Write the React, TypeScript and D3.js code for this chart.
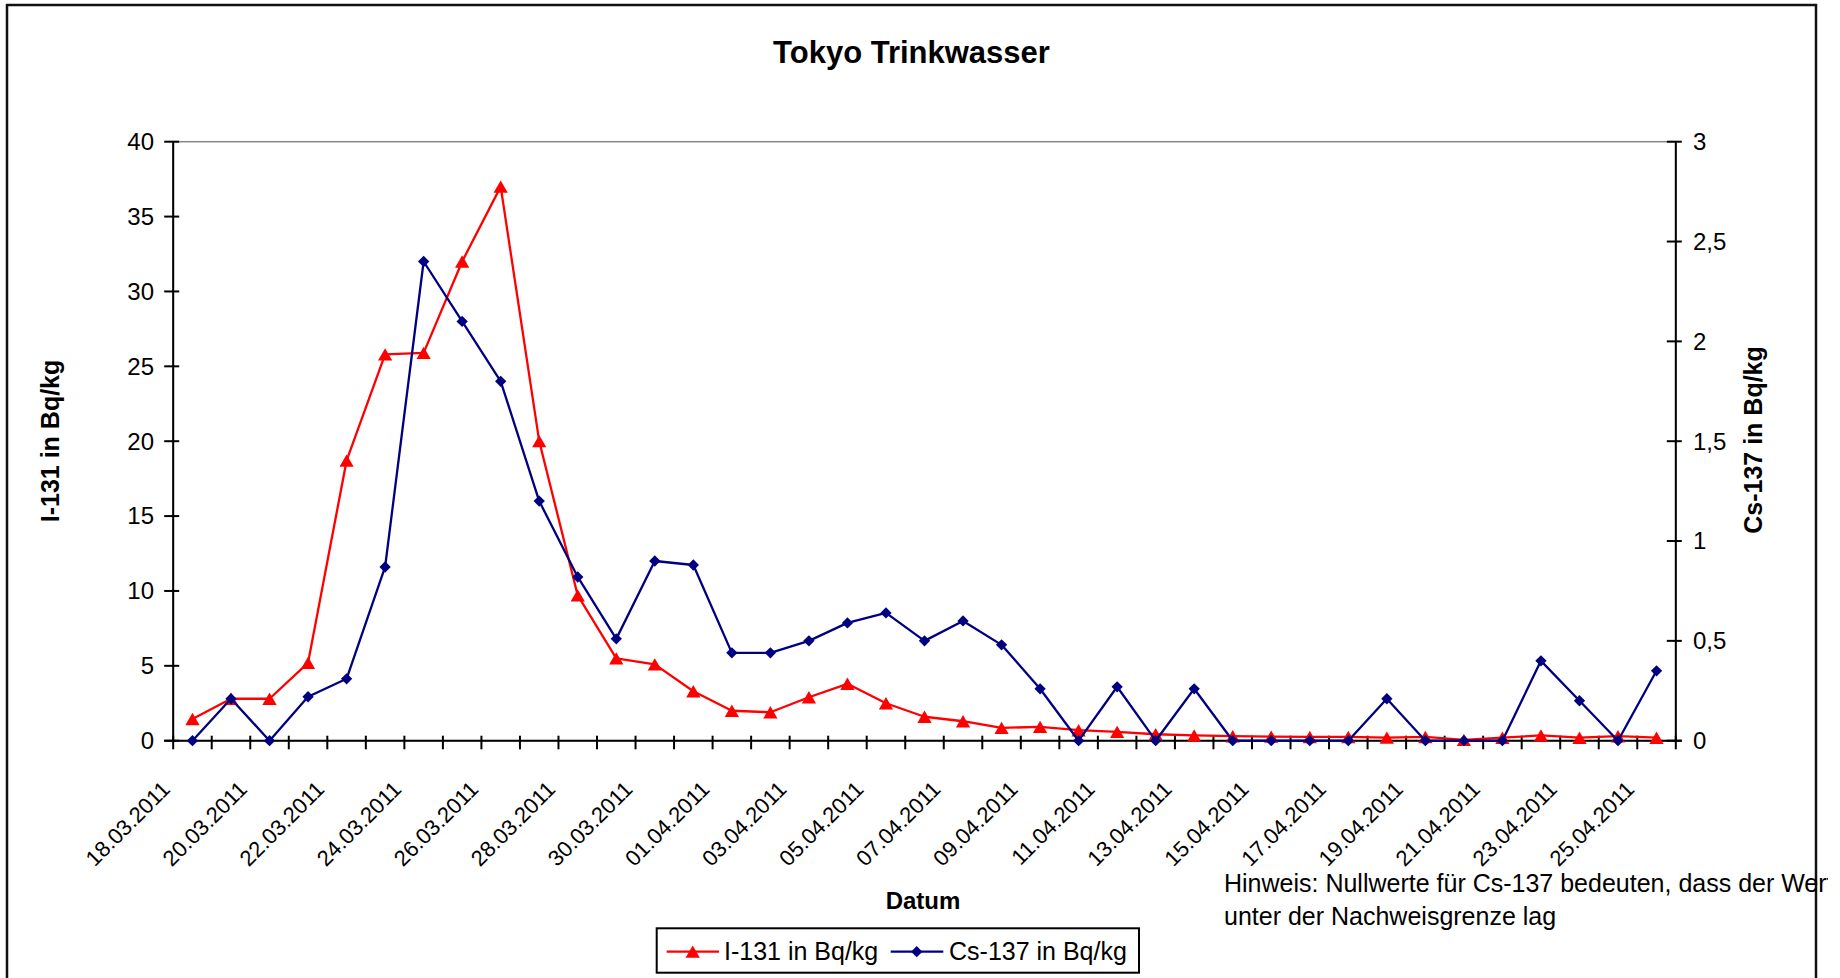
import React from "react";
import * as d3 from "d3";

// Messwerte Tokyo Trinkwasser, 18.03.2011 - 25.04.2011
const dates = [
  "18.03.2011", "19.03.2011", "20.03.2011", "21.03.2011", "22.03.2011",
  "23.03.2011", "24.03.2011", "25.03.2011", "26.03.2011", "27.03.2011",
  "28.03.2011", "29.03.2011", "30.03.2011", "31.03.2011", "01.04.2011",
  "02.04.2011", "03.04.2011", "04.04.2011", "05.04.2011", "06.04.2011",
  "07.04.2011", "08.04.2011", "09.04.2011", "10.04.2011", "11.04.2011",
  "12.04.2011", "13.04.2011", "14.04.2011", "15.04.2011", "16.04.2011",
  "17.04.2011", "18.04.2011", "19.04.2011", "20.04.2011", "21.04.2011",
  "22.04.2011", "23.04.2011", "24.04.2011", "25.04.2011",
];

const iodine = [
  1.45, 2.8, 2.8, 5.2, 18.7, 25.8, 25.9, 32.0, 37.0, 20.0,
  9.7, 5.5, 5.1, 3.3, 2.0, 1.9, 2.9, 3.8, 2.5, 1.6,
  1.3, 0.86, 0.92, 0.7, 0.59, 0.43, 0.35, 0.3, 0.27, 0.25,
  0.25, 0.21, 0.25, 0.05, 0.2, 0.35, 0.2, 0.3, 0.2,
];

const cesium = [
  0, 0.21, 0, 0.22, 0.31, 0.87, 2.4, 2.1, 1.8, 1.2,
  0.82, 0.51, 0.9, 0.88, 0.44, 0.44, 0.5, 0.59, 0.64, 0.5,
  0.6, 0.48, 0.26, 0, 0.27, 0, 0.26, 0, 0, 0,
  0, 0.21, 0, 0, 0, 0.4, 0.2, 0, 0.35,
];

const leftTicks = [0, 5, 10, 15, 20, 25, 30, 35, 40];
const rightTicks = [0, 0.5, 1, 1.5, 2, 2.5, 3];

const FONT = "'Liberation Sans', Arial, Helvetica, sans-serif";
const RED = "#ff0000";
const NAVY = "#000080";

const plot = { left: 173.2, right: 1675.8, top: 141.7, bottom: 740.7 };

export default function App() {
  const x = d3.scaleBand<string>().domain(dates).range([plot.left, plot.right]).padding(0);
  const yL = d3.scaleLinear().domain([0, 40]).range([plot.bottom, plot.top]);
  const yR = d3.scaleLinear().domain([0, 3]).range([plot.bottom, plot.top]);
  const cx = (d: string) => (x(d) ?? 0) + x.bandwidth() / 2;

  const lineI = d3.line<number>().x((_, i) => cx(dates[i])).y((v) => yL(v));
  const lineC = d3.line<number>().x((_, i) => cx(dates[i])).y((v) => yR(v));

  // triangle centred on its box, diamond = rotated square
  const tri = d3.symbol().type(d3.symbolTriangle).size(88)() as string;
  const dia = d3.symbol().type(d3.symbolSquare).size(64)() as string;
  const triShift = Math.sqrt(88 / (Math.sqrt(3) * 3)) / 2;

  const bounds = dates.map((d) => x(d) as number).concat([plot.right]);
  const fmt = (v: number) => String(v).replace(".", ",");

  return (
    <div style={{ position: "absolute", left: 0, top: 0, width: 1840, height: 978, overflow: "hidden", background: "#fff" }}>
      <svg width={1840} height={978} style={{ display: "block" }} fontFamily={FONT}>
        <defs>
          <clipPath id="noteclip">
            <rect x={0} y={0} width={1828} height={978} />
          </clipPath>
        </defs>
        <rect x={0} y={0} width={1840} height={978} fill="#fff" />
        <rect x={7} y={5} width={1809} height={1000} fill="#fff" stroke="#111" strokeWidth={2.5} />

        <text x={911.5} y={63} textAnchor="middle" fontSize={31} fontWeight="bold">
          Tokyo Trinkwasser
        </text>

        {/* plot area frame (only top visible) */}
        <rect x={plot.left} y={plot.top} width={plot.right - plot.left} height={plot.bottom - plot.top}
          fill="none" stroke="#888" strokeWidth={1.5} />

        {/* left axis */}
        <line x1={plot.left} x2={plot.left} y1={plot.top} y2={plot.bottom} stroke="#000" strokeWidth={2} />
        {leftTicks.map((t) => (
          <g key={"l" + t}>
            <line x1={plot.left - 9} x2={plot.left + 6} y1={yL(t)} y2={yL(t)} stroke="#000" strokeWidth={2} />
            <text x={154} y={yL(t)} dy="0.35em" textAnchor="end" fontSize={24}>{t}</text>
          </g>
        ))}

        {/* right axis */}
        <line x1={plot.right} x2={plot.right} y1={plot.top} y2={plot.bottom} stroke="#000" strokeWidth={2} />
        {rightTicks.map((t) => (
          <g key={"r" + t}>
            <line x1={plot.right - 9} x2={plot.right + 6} y1={yR(t)} y2={yR(t)} stroke="#000" strokeWidth={2} />
            <text x={1693} y={yR(t)} dy="0.35em" textAnchor="start" fontSize={24}>{fmt(t)}</text>
          </g>
        ))}

        {/* x axis */}
        <line x1={plot.left - 9} x2={plot.right + 6} y1={plot.bottom} y2={plot.bottom} stroke="#000" strokeWidth={2} />
        {bounds.map((b, i) => (
          <line key={"xt" + i} x1={b} x2={b} y1={plot.bottom - 5} y2={plot.bottom + 8.6} stroke="#000" strokeWidth={2} />
        ))}
        {dates.map((d, i) =>
          i % 2 === 0 ? (
            <text key={"xl" + d} transform={`translate(${cx(d) - 21},${plot.bottom + 50}) rotate(-45)`}
              textAnchor="end" fontSize={22}>
              {d}
            </text>
          ) : null
        )}

        {/* axis titles */}
        <text transform="translate(58.5,441) rotate(-90)" textAnchor="middle" fontSize={25} fontWeight="bold">
          I-131 in Bq/kg
        </text>
        <text transform="translate(1761.7,440) rotate(-90)" textAnchor="middle" fontSize={25} fontWeight="bold">
          Cs-137 in Bq/kg
        </text>
        <text x={923} y={909} textAnchor="middle" fontSize={24} fontWeight="bold">Datum</text>

        {/* I-131 series */}
        <path d={lineI(iodine) as string} fill="none" stroke={RED} strokeWidth={2.3} strokeLinejoin="round" />
        {iodine.map((v, i) => (
          <path key={"i" + i} d={tri} fill={RED} transform={`translate(${cx(dates[i])},${yL(v) + triShift})`} />
        ))}

        {/* Cs-137 series */}
        <path d={lineC(cesium) as string} fill="none" stroke={NAVY} strokeWidth={2.3} strokeLinejoin="round" />
        {cesium.map((v, i) => (
          <path key={"c" + i} d={dia} fill={NAVY} transform={`translate(${cx(dates[i])},${yR(v)}) rotate(45)`} />
        ))}

        {/* note */}
        <g clipPath="url(#noteclip)" fontSize={25}>
          <text x={1224} y={892}>Hinweis: Nullwerte für Cs-137 bedeuten, dass der Wert</text>
          <text x={1224} y={925}>unter der Nachweisgrenze lag</text>
        </g>

        {/* legend */}
        <rect x={656.7} y={928.3} width={482.3} height={44.4} fill="#fff" stroke="#000" strokeWidth={2} />
        <line x1={666.7} x2={719} y1={951.7} y2={951.7} stroke={RED} strokeWidth={2.3} />
        <path d={tri} fill={RED} transform={`translate(692.7,${951.7 + triShift})`} />
        <text x={724} y={960} fontSize={25}>I-131 in Bq/kg</text>
        <line x1={890.7} x2={943.3} y1={951.7} y2={951.7} stroke={NAVY} strokeWidth={2.3} />
        <path d={dia} fill={NAVY} transform="translate(916.7,951.7) rotate(45)" />
        <text x={949} y={960} fontSize={25}>Cs-137 in Bq/kg</text>
      </svg>
    </div>
  );
}
